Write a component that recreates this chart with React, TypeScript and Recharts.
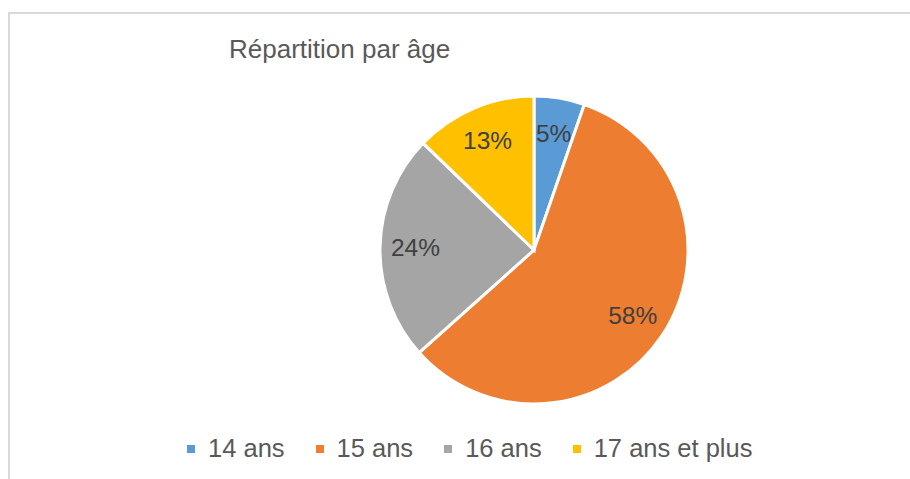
import React from 'react';
import { PieChart, Pie, Cell, Legend } from 'recharts';

const categories = ['14 ans', '15 ans', '16 ans', '17 ans et plus'];
const shares = [5.3, 58.1, 23.8, 12.8];
const labels = ['5%', '58%', '24%', '13%'];

const COLORS = ['#5B9BD5', '#ED7D31', '#A5A5A5', '#FFC000'];
const FONT = 'Arial, "Liberation Sans", sans-serif';

const data = categories.map((name, i) => ({ name, value: shares[i], label: labels[i] }));

const RADIAN = Math.PI / 180;

const renderLabel = (props: any) => {
    const { cx, cy, midAngle, outerRadius, index } = props;
    const r = outerRadius * 0.77;
    const x = cx + r * Math.cos(-midAngle * RADIAN);
    const y = cy + r * Math.sin(-midAngle * RADIAN);
    return (
        <text x={x} y={y} fill="#404040" fontSize={24.5} fontFamily={FONT} textAnchor="middle" dominantBaseline="central">
            {labels[index]}
        </text>
    );
};

const renderLegend = () => (
    <div style={{ display: 'flex', alignItems: 'center', gap: 31, fontFamily: FONT, fontSize: 25.5, color: '#595959' }}>
        {categories.map((c, i) => (
            <div key={c} style={{ display: 'flex', alignItems: 'center' }}>
                <span style={{ display: 'inline-block', width: 8, height: 8, background: COLORS[i], marginRight: 13 }} />
                <span>{c}</span>
            </div>
        ))}
    </div>
);

export default function App() {
    return (
        <div style={{ position: 'absolute', left: 0, top: 0, width: 910, height: 479, overflow: 'hidden', background: '#fff' }}>
            <div style={{ position: 'absolute', left: 8, top: 12, width: 940, height: 500, border: '2px solid #d9d9d9', boxSizing: 'border-box' }} />
            <svg style={{ position: 'absolute', left: 0, top: 0 }} width={910} height={80}>
                <text x={229} y={58} fill="#595959" fontSize={26} fontFamily={FONT}>Répartition par âge</text>
            </svg>
            <div style={{ position: 'absolute', left: 0, top: 0 }}>
                <PieChart width={910} height={479} margin={{ top: 0, right: 0, bottom: 0, left: 0 }}>
                    <Pie
                        data={data}
                        dataKey="value"
                        nameKey="name"
                        cx={534}
                        cy={250}
                        outerRadius={154}
                        startAngle={90}
                        endAngle={-270}
                        stroke="#ffffff"
                        strokeWidth={3}
                        label={renderLabel}
                        labelLine={false}
                        isAnimationActive={false}
                    >
                        {data.map((d, i) => (
                            <Cell key={d.name} fill={COLORS[i]} />
                        ))}
                    </Pie>
                    <Legend content={renderLegend} wrapperStyle={{ position: 'absolute', left: 187, top: 434, width: 'auto' }} />
                </PieChart>
            </div>
        </div>
    );
}
